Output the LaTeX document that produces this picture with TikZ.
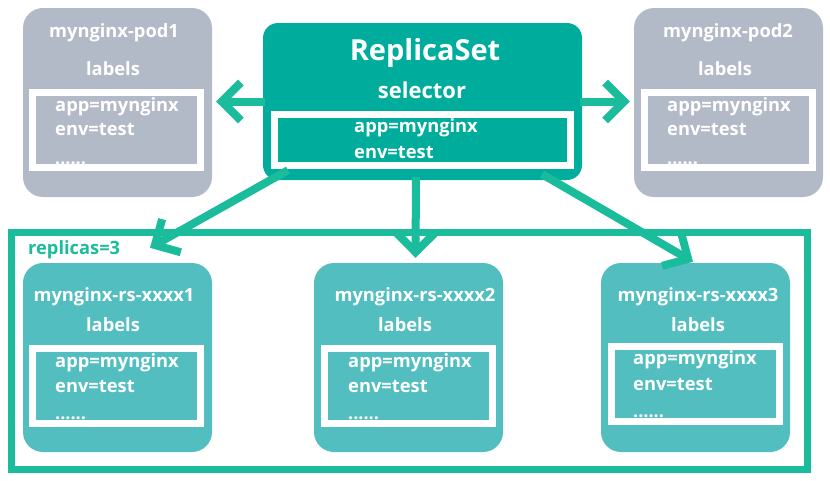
\documentclass[tikz,border=0pt]{standalone}
\usepackage{fontspec}
\setmainfont{Open Sans}
\usetikzlibrary{arrows.meta}
\definecolor{podgray}{RGB}{178,186,199}
\definecolor{rsmain}{RGB}{0,173,156}
\definecolor{arrowgreen}{RGB}{26,188,156}
\definecolor{rspod}{RGB}{82,190,192}
\begin{document}
\begin{tikzpicture}[x=1pt,y=-1pt,
  podbox/.style={rectangle, rounded corners=20pt, minimum width=189pt, minimum height=189pt, inner sep=0pt},
  graypod/.style={podbox, fill=podgray},
  tealpod/.style={podbox, fill=rspod},
  rsbox/.style={rectangle, rounded corners=15pt, fill=rsmain, minimum width=319pt, minimum height=157pt, inner sep=0pt},
  frame/.style={rectangle, draw=white, line width=7pt, inner sep=0pt},
  podframe/.style={frame, minimum width=168pt, minimum height=75pt},
  title/.style={text=white, font=\bfseries\fontsize{18.3}{20}\selectfont, inner sep=0pt},
  lbl/.style={text=white, font=\bfseries\fontsize{18.3}{20}\selectfont, inner sep=0pt, anchor=west},
  dots/.style={text=white, font=\bfseries\fontsize{18}{20}\selectfont, inner sep=0pt, anchor=base west},
  conn/.style={draw=arrowgreen, line width=8pt, -{Straight Barb[length=19pt, width=38pt, sharp]}},
]
\useasboundingbox (0,0) rectangle (830,480);

% replicas frame
\node[draw=arrowgreen, line width=7pt, rectangle, inner sep=0pt, minimum width=796pt, minimum height=237pt] (repframe) at (409.5,351) {};
\node[text=arrowgreen, font=\bfseries\fontsize{18.3}{20}\selectfont, inner sep=0pt, anchor=west] (reptxt) at (28,250) {replicas=3};

% gray pods
\node[graypod] (pod1) at (117.5,102.5) {};
\node[podframe] (pod1f) at (116.75,130) {};
\node[title] (pod1t) at (114,33) {mynginx-pod1};
\node[title] (pod1l) at (113,69) {labels};
\node[lbl] (pod1a) at (55,107) {app=mynginx};
\node[lbl] (pod1e) at (55,130) {env=test};
\node[dots] (pod1d) at (55,164) {......};

\node[graypod] (pod2) at (728.5,102.5) {};
\node[podframe] (pod2f) at (728.5,130) {};
\node[title] (pod2t) at (728,33) {mynginx-pod2};
\node[title] (pod2l) at (725,69) {labels};
\node[lbl] (pod2a) at (667,107) {app=mynginx};
\node[lbl] (pod2e) at (667,130) {env=test};
\node[dots] (pod2d) at (667,164) {......};

% ReplicaSet
\node[rsbox] (rs) at (422.5,101.5) {};
\node[frame, minimum width=296pt, minimum height=51pt] (rsf) at (422.5,140) {};
\node[text=white, font=\bfseries\fontsize{29}{32}\selectfont, inner sep=0pt] (rst) at (425,53) {ReplicaSet};
\node[text=white, font=\bfseries\fontsize{22}{26}\selectfont, inner sep=0pt] (rss) at (422,90) {selector};
\node[lbl] (rsa) at (354,128) {app=mynginx};
\node[lbl] (rse) at (354,153) {env=test};

% teal pods
\node[tealpod] (r1) at (117.5,357.5) {};
\node[podframe] (r1f) at (116.5,386) {};
\node[title] (r1t) at (114,297) {mynginx-rs-xxxx1};
\node[title] (r1l) at (113,325) {labels};
\node[lbl] (r1a) at (55,363) {app=mynginx};
\node[lbl] (r1e) at (55,387) {env=test};
\node[dots] (r1d) at (55,419) {......};

\node[tealpod] (r2) at (408.5,357.5) {};
\node[podframe] (r2f) at (408,386) {};
\node[title] (r2t) at (415,297) {mynginx-rs-xxxx2};
\node[title] (r2l) at (405,325) {labels};
\node[lbl] (r2a) at (348,363) {app=mynginx};
\node[lbl] (r2e) at (348,387) {env=test};
\node[dots] (r2d) at (348,419) {......};

\node[tealpod] (r3) at (695.5,357.5) {};
\node[podframe] (r3f) at (695,384) {};
\node[title] (r3t) at (698,297) {mynginx-rs-xxxx3};
\node[title] (r3l) at (698,325) {labels};
\node[lbl] (r3a) at (633,360) {app=mynginx};
\node[lbl] (r3e) at (633,385) {env=test};
\node[dots] (r3d) at (633,417) {......};

% connectors
\draw[conn] ([xshift=2pt]rs.west) -- ([xshift=4pt]pod1.east |- rs.west);
\draw[conn] ([xshift=-2pt]rs.east) -- ([xshift=-4pt]pod2.west |- rs.east);
\draw[conn] ([xshift=-134.5pt,yshift=10pt]rs.south) -- ([xshift=32.5pt,yshift=15pt]r1.north);
\draw[conn] ([xshift=-6.5pt,yshift=3pt]rs.south) -- ([xshift=7pt,yshift=5pt]r2.north);
\draw[conn] ([xshift=119.5pt,yshift=6pt]rs.south) -- ([xshift=-2.5pt,yshift=1pt]r3.north);
\end{tikzpicture}
\end{document}
